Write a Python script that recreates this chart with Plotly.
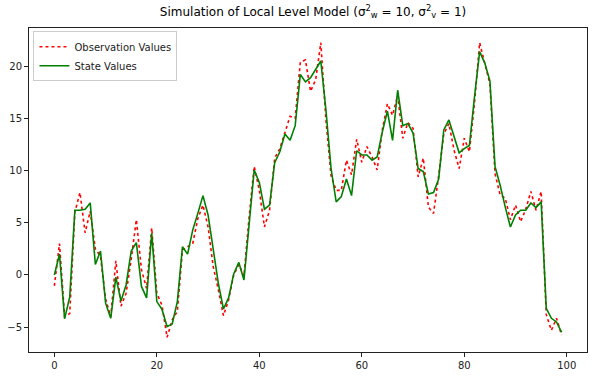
import plotly.graph_objects as go

t = list(range(100))

observations = [
    -1.05, 3.0, -4.0, -3.7, 6.0, 7.9, 4.05, 6.1, 2.5, 1.8,
    -2.3, -4.0, 1.35, -3.0, -1.75, 1.5, 5.3, 0.5, -1.3, 4.5,
    -1.75, -2.9, -5.97, -4.3, -3.5, 2.4, 2.7, 3.0, 5.4, 6.7,
    4.6, 0.8, -1.4, -3.9, -2.4, 0.0, 1.0, -0.1, 5.5, 10.4,
    8.1, 4.6, 6.2, 11.2, 12.1, 13.7, 15.2, 15.0, 20.4, 20.6,
    17.6, 18.7, 22.25, 14.85, 9.5, 8.1, 8.1, 11.0, 9.6, 13.0,
    10.8, 12.3, 11.3, 10.06, 13.9, 16.4, 15.3, 17.2, 13.1, 14.6,
    14.05, 9.4, 11.2, 6.5, 5.9, 9.5, 13.5, 14.5, 11.97, 10.2,
    13.1, 11.8, 16.5, 22.25, 20.3, 18.3, 9.7, 7.66, 7.35, 5.3,
    6.7, 5.1, 6.3, 8.0, 6.2, 8.0, -3.8, -5.3, -4.15, -5.75,
]

states = [
    0.0, 2.0, -4.2, -2.1, 6.2, 6.2, 6.3, 6.9, 1.0, 2.3,
    -2.7, -4.15, -0.2, -2.5, -0.96, 2.3, 3.1, -1.1, -2.2, 4.0,
    -2.55, -3.3, -4.95, -4.7, -2.55, 2.7, 2.0, 4.3, 5.9, 7.6,
    5.75, 2.4, -0.8, -3.26, -2.2, 0.1, 1.2, -0.48, 4.8, 10.06,
    8.85, 6.3, 6.7, 10.76, 11.8, 13.5, 12.9, 14.3, 19.2, 18.5,
    18.9, 19.7, 20.5, 15.8, 10.2, 7.0, 7.5, 9.2, 7.6, 11.9,
    11.5, 11.5, 11.0, 11.3, 13.7, 15.7, 12.9, 17.7, 14.3, 14.5,
    13.6, 10.2, 9.9, 7.76, 7.9, 9.2, 13.9, 14.85, 13.25, 11.7,
    12.1, 12.4, 17.1, 21.4, 20.3, 18.6, 10.4, 8.6, 6.5, 4.6,
    5.75, 6.2, 6.2, 6.9, 6.45, 7.0, -3.2, -4.15, -4.5, -5.5,
]

x_ticks = [0, 20, 40, 60, 80, 100]
y_ticks = [-5, 0, 5, 10, 15, 20]

fig = go.Figure()
fig.add_trace(go.Scatter(
    x=t, y=observations, mode="lines", name="Observation Values",
    line=dict(color="red", width=1.6, dash="dot"),
))
fig.add_trace(go.Scatter(
    x=t, y=states, mode="lines", name="State Values",
    line=dict(color="green", width=1.6),
))

axis_common = dict(
    showgrid=False, zeroline=False, showline=True, mirror=True,
    linecolor="#222", linewidth=1, ticks="outside", ticklen=4,
    tickcolor="#222", tickfont=dict(family="DejaVu Sans", size=10, color="#222"),
    automargin=False,
)

fig.update_layout(
    width=594, height=377,
    margin=dict(l=29, r=7, t=28, b=25),
    paper_bgcolor="white", plot_bgcolor="white",
    title=dict(
        text="Simulation of Local Level Model (σ<sup>2</sup><sub>w</sub> = 10, σ<sup>2</sup><sub>v</sub> = 1)",
        x=0.527, xanchor="center", y=0.98, yanchor="top", pad=dict(t=0),
        font=dict(family="DejaVu Sans", size=12, color="black"),
    ),
    xaxis=dict(range=[-4.95, 103.95], tickvals=x_ticks, **axis_common),
    yaxis=dict(range=[-7.38, 23.66], tickvals=y_ticks, **axis_common),
    legend=dict(
        x=0.008, y=0.99, xanchor="left", yanchor="top",
        bgcolor="rgba(255,255,255,0.8)", bordercolor="#ccc", borderwidth=1,
        font=dict(family="DejaVu Sans", size=10, color="#222"),
        tracegroupgap=0, itemwidth=30,
    ),
    showlegend=True,
    hovermode=False,
)

fig.write_html(
    "out.html",
    config={"displayModeBar": False},
    post_script="document.body.style.margin='0';document.body.style.overflow='hidden';",
)
